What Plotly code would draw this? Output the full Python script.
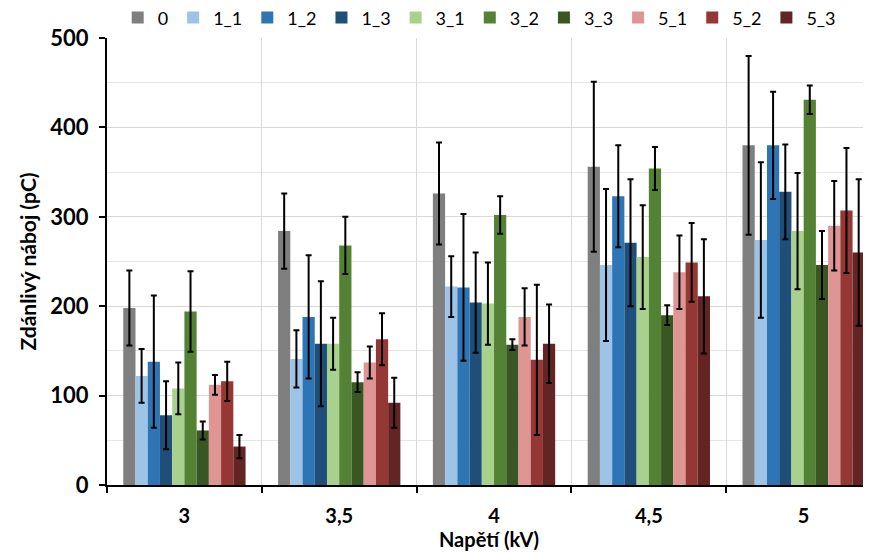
import plotly.graph_objects as go

categories = ["3", "3,5", "4", "4,5", "5"]
series_names = ["0", "1_1", "1_2", "1_3", "3_1", "3_2", "3_3", "5_1", "5_2", "5_3"]
colors = ["#7F7F7F", "#9DC3E6", "#2E75B6", "#1F4E79", "#A9D18E",
          "#548235", "#385723", "#DE9594", "#953735", "#632523"]

v_0   = [198, 284, 326, 356, 380]
v_1_1 = [122, 141, 222, 246, 274]
v_1_2 = [138, 188, 221, 323, 380]
v_1_3 = [78, 158, 204, 271, 328]
v_3_1 = [108, 158, 203, 255, 284]
v_3_2 = [194, 268, 302, 354, 431]
v_3_3 = [61, 115, 157, 190, 246]
v_5_1 = [112, 137, 188, 238, 290]
v_5_2 = [116, 163, 140, 249, 307]
v_5_3 = [43, 92, 158, 211, 260]

e_0   = [42, 42, 57, 95, 100]
e_1_1 = [30, 32, 34, 85, 87]
e_1_2 = [74, 69, 82, 57, 60]
e_1_3 = [38, 70, 56, 71, 53]
e_3_1 = [29, 29, 46, 58, 65]
e_3_2 = [45, 32, 21, 24, 16]
e_3_3 = [10, 11, 6, 11, 38]
e_5_1 = [11, 18, 32, 41, 50]
e_5_2 = [22, 29, 84, 44, 70]
e_5_3 = [13, 28, 44, 64, 82]

values = [v_0, v_1_1, v_1_2, v_1_3, v_3_1, v_3_2, v_3_3, v_5_1, v_5_2, v_5_3]
errors = [e_0, e_1_1, e_1_2, e_1_3, e_3_1, e_3_2, e_3_3, e_5_1, e_5_2, e_5_3]

FONT = "Lato"

fig = go.Figure()
for name, col, vals, errs in zip(series_names, colors, values, errors):
    fig.add_trace(go.Bar(
        x=categories, y=vals, name=name,
        marker=dict(color=col, line=dict(width=0)),
        error_y=dict(type="data", array=errs, visible=True,
                     color="black", thickness=2, width=3),
    ))

fig.update_layout(
    width=863, height=544,
    margin=dict(l=99, r=0, t=30, b=67, autoexpand=False),
    paper_bgcolor="white", plot_bgcolor="white",
    barmode="group", bargap=0.21, bargroupgap=0,
    font=dict(family=FONT, color="black"),
    legend=dict(orientation="h", x=0.014, y=1.045, xanchor="left", yanchor="middle",
                font=dict(family=FONT, size=18, color="black"),
                entrywidth=0, traceorder="normal", bgcolor="rgba(0,0,0,0)",
                itemwidth=30, tracegroupgap=0),
    showlegend=True,
)

fig.update_xaxes(
    type="category", range=[-0.5, 4.435],
    showline=True, linecolor="black", linewidth=2,
    ticks="outside", tickson="boundaries", ticklen=6, tickwidth=2, tickcolor="black",
    showgrid=True, gridcolor="#D9D9D9", gridwidth=1,
    tickfont=dict(family=FONT, size=20, weight="bold"),
    ticklabelstandoff=12,
    title=dict(text="Napětí (kV)", font=dict(family=FONT, size=20, weight="bold"), standoff=3),
)
fig.update_yaxes(
    range=[0, 500], dtick=100,
    showline=True, linecolor="black", linewidth=2,
    ticks="outside", ticklen=6, tickwidth=2, tickcolor="black",
    showgrid=True, gridcolor="#D9D9D9", gridwidth=1,
    minor=dict(dtick=50, showgrid=True, gridcolor="#E6E6E6", gridwidth=1),
    zeroline=False,
    tickfont=dict(family=FONT, size=22, weight="bold"),
    ticklabelstandoff=6,
    title=dict(text="Zdánlivý náboj (pC)", font=dict(family=FONT, size=21, weight="bold"), standoff=8),
)

fig.write_html("out.html")
